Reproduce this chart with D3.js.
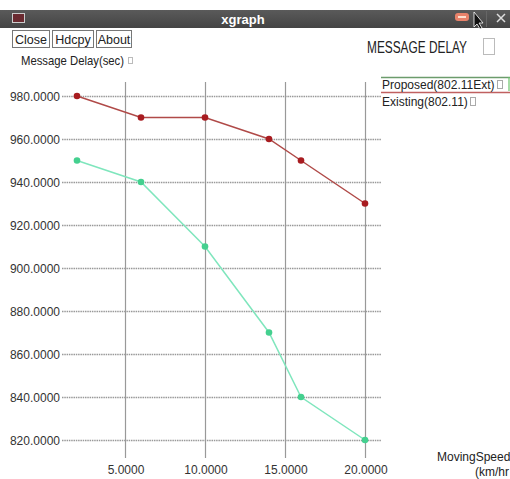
<!DOCTYPE html>
<html><head><meta charset="utf-8">
<script src="https://cdn.jsdelivr.net/npm/d3@7"></script>
<style>body{margin:0;background:#fff}svg{display:block}text{font-family:"Liberation Sans",Arial,sans-serif}</style>
</head><body>
<svg id="c" width="510" height="479"></svg>
<script>
const speeds = [2, 6, 10, 14, 16, 20];
const proposed = [950, 940, 910, 870, 840, 820];
const existing = [980, 970, 970, 960, 950, 930];
const xTicks = [5, 10, 15, 20];
const yTicks = [820, 840, 860, 880, 900, 920, 940, 960, 980];
const seriesNames = ["Proposed(802.11Ext)", "Existing(802.11)"];

const svg = d3.select("#c");
const x = d3.scaleLinear().domain([5, 20]).range([125, 365]);
const y = d3.scaleLinear().domain([820, 980]).range([440, 96]);

// title bar
const defs = svg.append("defs");
const g1 = defs.append("linearGradient").attr("id","tbg").attr("x1",0).attr("x2",0).attr("y1",0).attr("y2",1);
g1.append("stop").attr("offset","0").attr("stop-color","#5a5a5a");
g1.append("stop").attr("offset","1").attr("stop-color","#444");
svg.append("rect").attr("x",0).attr("y",10).attr("width",510).attr("height",18).attr("fill","url(#tbg)");
svg.append("rect").attr("x",12.5).attr("y",13.5).attr("width",12).attr("height",9).attr("fill","#6a2a30").attr("stroke","#ccc").attr("stroke-width",1);
svg.append("text").attr("x",243).attr("y",24).attr("text-anchor","middle").attr("fill","#fff").attr("font-weight","bold").attr("font-size",13).text("xgraph");
svg.append("rect").attr("x",455).attr("y",13).attr("width",14).attr("height",8).attr("rx",3).attr("fill","#e8826a");
svg.append("rect").attr("x",458).attr("y",16).attr("width",8).attr("height",2).attr("fill","#fde0d0");
svg.append("path").attr("d","M474,12 L474,27 L477,24 L480,29 L482,28 L479,23 L483,23 Z").attr("fill","#111").attr("stroke","#fff").attr("stroke-width",0.8);
svg.append("line").attr("x1",486.5).attr("x2",486.5).attr("y1",11).attr("y2",27).attr("stroke","#666");
svg.append("path").attr("d","M497,14 L505,22 M505,14 L497,22").attr("stroke","#ddd").attr("stroke-width",1.5);

// buttons
const buttons = [{t:"Close",x:12,w:37},{t:"Hdcpy",x:52,w:41},{t:"About",x:96,w:35}];
buttons.forEach(b=>{
  svg.append("rect").attr("x",b.x+0.5).attr("y",30.5).attr("width",b.w).attr("height",17).attr("fill","#fff").attr("stroke","#777");
  svg.append("text").attr("x",b.x+b.w/2+0.5).attr("y",43.5).attr("text-anchor","middle").attr("font-size",12.5).attr("fill","#222").text(b.t);
});

svg.append("text").attr("x",367).attr("y",53).attr("font-size",16).attr("fill","#222").attr("textLength",100).attr("lengthAdjust","spacingAndGlyphs").text("MESSAGE DELAY");
svg.append("rect").attr("x",483.5).attr("y",38.5).attr("width",11).attr("height",16).attr("fill","none").attr("stroke","#bbb");
svg.append("text").attr("x",21).attr("y",65).attr("font-size",13).attr("fill","#222").attr("textLength",103).attr("lengthAdjust","spacingAndGlyphs").text("Message Delay(sec)");
svg.append("rect").attr("x",128.5).attr("y",57.5).attr("width",4).attr("height",6).attr("fill","none").attr("stroke","#bbb");

// grid
svg.append("g").selectAll("line").data(yTicks).join("line")
  .attr("x1",62).attr("x2",381).attr("y1",d=>y(d)+0.5).attr("y2",d=>y(d)+0.5)
  .attr("stroke","#999").attr("stroke-width",1.3).attr("stroke-dasharray","1.5,0.8");
svg.append("g").selectAll("line").data(xTicks).join("line")
  .attr("y1",82).attr("y2",458).attr("x1",d=>x(d)+0.5).attr("x2",d=>x(d)+0.5)
  .attr("stroke","#999").attr("stroke-width",1.2);

// tick labels
svg.append("g").selectAll("text").data(yTicks).join("text")
  .attr("x",60).attr("y",d=>y(d)+4.5).attr("text-anchor","end").attr("font-size",12).attr("fill","#333")
  .text(d=>d3.format(".4f")(d));
svg.append("g").selectAll("text").data(xTicks).join("text")
  .attr("x",d=>x(d)+1).attr("y",474).attr("text-anchor","middle").attr("font-size",12).attr("fill","#333")
  .text(d=>d3.format(".4f")(d));

// series
const line = d3.line().x((d,i)=>x(speeds[i])).y(d=>y(d));
svg.append("path").datum(proposed).attr("d",line).attr("fill","none").attr("stroke","#7fe6bd").attr("stroke-width",1.5);
svg.append("path").datum(existing).attr("d",line).attr("fill","none").attr("stroke","#b04a48").attr("stroke-width",1.5);
svg.append("g").selectAll("circle").data(proposed).join("circle")
  .attr("cx",(d,i)=>x(speeds[i])).attr("cy",d=>y(d)).attr("r",3.3).attr("fill","#44d08f");
svg.append("g").selectAll("circle").data(existing).join("circle")
  .attr("cx",(d,i)=>x(speeds[i])).attr("cy",d=>y(d)).attr("r",3.3).attr("fill","#a81c20");

// legend
svg.append("line").attr("x1",381).attr("x2",510).attr("y1",77.5).attr("y2",77.5).attr("stroke","#6c9c6c").attr("stroke-width",1.5);
svg.append("line").attr("x1",509).attr("x2",509).attr("y1",77).attr("y2",91).attr("stroke","#6cc46c").attr("stroke-width",1.2);
svg.append("line").attr("x1",381).attr("x2",510).attr("y1",92.5).attr("y2",92.5).attr("stroke","#c06060").attr("stroke-width",1.3);
svg.append("text").attr("x",382).attr("y",89).attr("font-size",12).attr("fill","#222").text(seriesNames[0]);
svg.append("rect").attr("x",497.5).attr("y",80.5).attr("width",5).attr("height",8).attr("fill","none").attr("stroke","#aaa");
svg.append("text").attr("x",382).attr("y",106).attr("font-size",12).attr("fill","#222").text(seriesNames[1]);
svg.append("rect").attr("x",470.5).attr("y",97.5).attr("width",5).attr("height",8).attr("fill","none").attr("stroke","#aaa");

// x axis label
svg.append("text").attr("x",437).attr("y",461).attr("font-size",12).attr("fill","#222").text("MovingSpeed");
svg.append("text").attr("x",475).attr("y",476).attr("font-size",12).attr("font-family","Liberation Serif, serif").attr("fill","#222").text("(km/hr");
</script>
</body></html>
